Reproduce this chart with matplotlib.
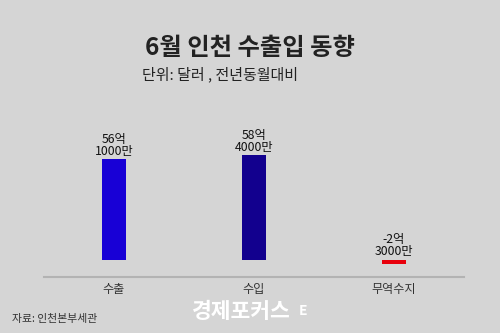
import matplotlib
matplotlib.use("Agg")
import matplotlib.pyplot as plt

plt.rcParams["font.family"] = ["Noto Sans CJK KR", "DejaVu Sans"]

categories = ["수출", "수입", "무역수지"]
values = [56.1, 58.4, -2.3]  # 억 달러
value_labels = ["56억\n1000만", "58억\n4000만", "-2억\n3000만"]
colors = ["#1800d6", "#12008e", "#e8000c"]

BG = "#d5d5d5"

fig = plt.figure(figsize=(5, 3.33), dpi=100, facecolor=BG)
ax = fig.add_axes([0.088, 0.167, 0.84, 0.429], facecolor=BG)

x = range(len(categories))
ax.bar(x, values, width=0.17, color=colors, zorder=2)

for xi, v, lab in zip(x, values, value_labels):
    top = max(v, 0)
    ax.annotate(lab, (xi, top), xytext=(0, 1), textcoords="offset points",
                ha="center", va="bottom", fontsize=8.8, color="#111111",
                linespacing=0.9)

ax.set_xlim(-0.5, 2.5)
ax.set_ylim(-10, 70)
ax.set_xticks(list(x))
ax.set_xticklabels(categories, fontsize=8.7, color="#333333")
ax.tick_params(axis="x", length=0, pad=4)
ax.set_yticks([])
for side in ["top", "right", "left"]:
    ax.spines[side].set_visible(False)
ax.spines["bottom"].set_color("#b3b3b3")
ax.spines["bottom"].set_linewidth(1.5)

fig.text(0.5, 0.855, "6월 인천 수출입 동향", ha="center", va="center",
         fontsize=17.5, fontweight="bold", color="#222222")
fig.text(0.283, 0.775, "단위: 달러 , 전년동월대비", ha="left", va="center",
         fontsize=10.8, color="#222222")
fig.text(0.024, 0.042, "자료: 인천본부세관", ha="left", va="center",
         fontsize=7.8, color="#333333")
fig.text(0.384, 0.064, "경제포커스", ha="left", va="center",
         fontsize=15.5, fontweight="heavy", color="white")
fig.text(0.598, 0.066, "E", ha="left", va="center",
         fontsize=10, fontweight="bold", color="white")

fig.savefig("out.png", dpi=100, facecolor=BG)
